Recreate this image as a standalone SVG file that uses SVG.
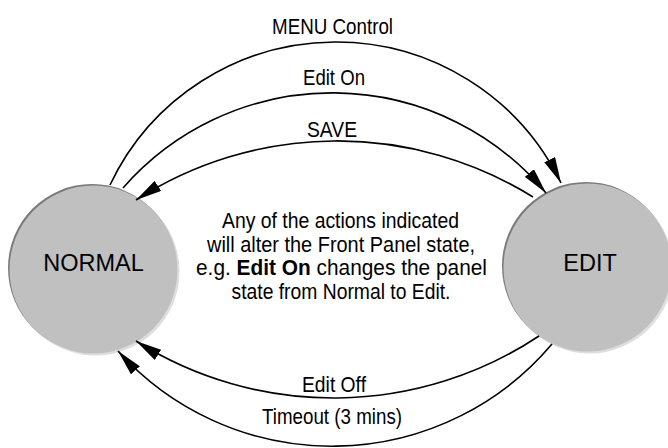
<svg xmlns="http://www.w3.org/2000/svg" width="668" height="448" viewBox="0 0 668 448">
<style>
.lbl{font-family:"Liberation Sans",Arial,sans-serif;font-size:21.5px;fill:#000;text-anchor:middle}
.body{font-family:"Liberation Sans",Arial,sans-serif;font-size:22.5px;fill:#000;text-anchor:middle}
.node{font-family:"Liberation Sans",Arial,sans-serif;font-size:23.5px;fill:#000;text-anchor:middle}
.edge{fill:none;stroke:#000;stroke-width:1.6;marker-end:url(#arr)}
.hi{fill:#7a7a7a}
.sh{fill:#dedede}
.face{fill:#c0c0c0}
</style>
<defs>
<marker id="arr" markerUnits="userSpaceOnUse" markerWidth="26" markerHeight="12" viewBox="0 0 26 12" refX="26" refY="6" orient="auto">
<path d="M0,0 L26,6 L0,12 z" fill="#000"/>
</marker>
</defs>
<rect width="668" height="448" fill="#fff"/>
<g id="normal">
<circle class="sh" cx="95.5" cy="271.5" r="84"/>
<circle class="hi" cx="92" cy="268" r="84"/>
<circle class="face" cx="93.5" cy="269.5" r="84"/>
<text class="node" x="93.5" y="271">NORMAL</text>
</g>
<g id="edit">
<circle class="sh" cx="589.5" cy="269.5" r="84"/>
<circle class="hi" cx="586" cy="266" r="84"/>
<circle class="face" cx="587.5" cy="267.5" r="84"/>
<text class="node" x="590" y="271">EDIT</text>
</g>
<g id="connectors">
<path class="edge" d="M110,185 A250,250 0 0 1 561,183"/>
<path class="edge" d="M123,188 A278,278 0 0 1 546,193"/>
<path class="edge" d="M533,197 A371,371 0 0 0 136,200"/>
<path class="edge" d="M539,336 A371,371 0 0 1 136,341"/>
<path class="edge" d="M552,344 A288,288 0 0 1 118,351"/>
</g>
<g id="labels">
<text class="lbl" x="332.5" y="34" textLength="121" lengthAdjust="spacingAndGlyphs">MENU Control</text>
<text class="lbl" x="334" y="85" textLength="62" lengthAdjust="spacingAndGlyphs">Edit On</text>
<text class="lbl" x="332" y="137" textLength="50" lengthAdjust="spacingAndGlyphs">SAVE</text>
<text class="lbl" x="334" y="392" textLength="64" lengthAdjust="spacingAndGlyphs">Edit Off</text>
<text class="lbl" x="332" y="424" textLength="140" lengthAdjust="spacingAndGlyphs">Timeout (3 mins)</text>
</g>
<g id="note">
<text class="body" x="340.5" y="228" textLength="237" lengthAdjust="spacingAndGlyphs">Any of the actions indicated</text>
<text class="body" x="341" y="251.5" textLength="268" lengthAdjust="spacingAndGlyphs">will alter the Front Panel state,</text>
<text class="body" x="341.5" y="275" textLength="291" lengthAdjust="spacingAndGlyphs">e.g. <tspan font-weight="bold">Edit On</tspan> changes the panel</text>
<text class="body" x="341" y="298.5" textLength="219" lengthAdjust="spacingAndGlyphs">state from Normal to Edit.</text>
</g>
</svg>
